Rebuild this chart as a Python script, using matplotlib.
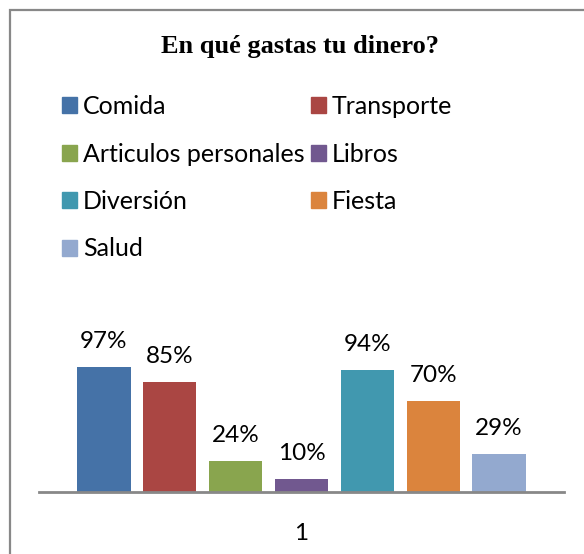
import matplotlib.pyplot as plt
import numpy as np
from matplotlib.patches import Rectangle, Patch

categories = ['Comida', 'Transporte', 'Articulos personales', 'Libros',
              'Diversión', 'Fiesta', 'Salud']
values = [97, 85, 24, 10, 94, 70, 29]
colors = ['#4572A7', '#AA4643', '#89A54E', '#71588F', '#4198AF', '#DB843D', '#93A9CF']
x_labels = ['1']

W, H = 584, 554
fig = plt.figure(figsize=(W / 100, H / 100), dpi=100)
plt.rcParams['font.family'] = ['Lato', 'DejaVu Sans']

# frame round the chart (runs off the right and bottom edges)
fig.patches.append(Rectangle((10 / W, -0.1), 1.2, 1 - 10 / H + 0.1, transform=fig.transFigure,
                             fill=False, edgecolor='#888888', linewidth=1.6))

# plot area: x 39..564 px, baseline at y 492 px
ax = fig.add_axes([39 / W, (H - 492) / H, 525 / W, 200 / H])
px_per_unit = 125.5 / 97
ax.set_ylim(0, 200 / px_per_unit)
ax.set_xlim(-0.5, 0.5)

n = len(values)
for i in range(n):
    xpos = (i - (n - 1) / 2) * 0.1254
    ax.bar(xpos, values[i], width=0.101, color=colors[i], label=categories[i])
    ax.text(xpos, values[i] + 19 / px_per_unit, '%d%%' % values[i],
            ha='center', va='baseline', fontsize=17.5, color='#000000')

for s in ['top', 'right', 'left']:
    ax.spines[s].set_visible(False)
ax.spines['bottom'].set_color('#888888')
ax.spines['bottom'].set_linewidth(2)
ax.set_yticks([])
ax.set_xticks([0])
ax.set_xticklabels(x_labels, fontsize=17.5)
ax.tick_params(axis='x', length=0, pad=22)

fig.text(300 / W, 1 - 53 / H, 'En qué gastas tu dinero?', ha='center', va='baseline',
         fontsize=19, fontweight='bold', family='Liberation Serif')

handles = [Patch(color=c) for c in colors]
order = [0, 2, 4, 6, 1, 3, 5]
fig.legend([handles[i] for i in order], [categories[i] for i in order], ncol=2,
           loc='upper left', bbox_to_anchor=(62 / W, 1 - 95 / H), frameon=False,
           fontsize=18, handlelength=0.6, handleheight=0.6, handletextpad=0.24,
           labelspacing=0.98, columnspacing=0.25, borderaxespad=0, borderpad=0)

fig.savefig('out.png', dpi=100)
